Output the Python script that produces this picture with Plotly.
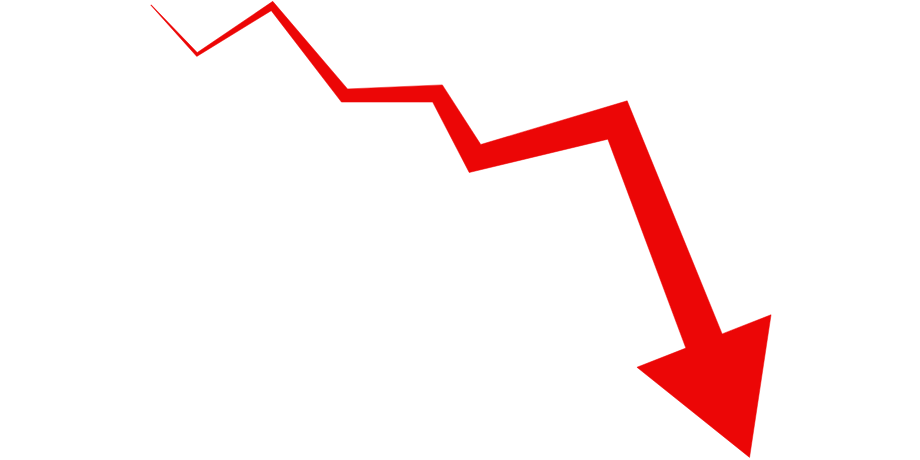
import numpy as np
import plotly.graph_objects as go

# centre line of the zigzag, in picture units (y grows downward)
path_x = [151, 197, 272, 344.5, 437.5, 475, 617.5, 704]
path_y = [5, 54.5, 6, 95.5, 93.5, 158.5, 120, 341]
# stroke thickness at each point of the path
path_w = [0.5, 3, 7, 13, 17, 24, 32, 39]
head_half = 72
head_len = 125
red = "#ec0606"


def outline(xs, ys, ws):
    p = np.column_stack([xs, ys]).astype(float)
    n = len(p)
    seg = np.diff(p, axis=0)
    seg /= np.linalg.norm(seg, axis=1)[:, None]
    nrm = np.column_stack([-seg[:, 1], seg[:, 0]])
    left, right = [], []
    for i in range(n):
        if i == 0:
            m, d = nrm[0], 1.0
        elif i == n - 1:
            m, d = nrm[-1], 1.0
        else:
            m = nrm[i - 1] + nrm[i]
            m /= np.linalg.norm(m)
            d = np.dot(m, nrm[i])
        off = m * (ws[i] / 2) / d
        left.append(p[i] + off)
        right.append(p[i] - off)
    # arrow head on the last segment
    base = p[-1]
    u = seg[-1]
    head = [base + nrm[-1] * head_half, base + u * head_len, base - nrm[-1] * head_half]
    pts = left + head + right[::-1] + [left[0]]
    pts = np.array(pts)
    return pts[:, 0], pts[:, 1]


ox, oy = outline(path_x, path_y, path_w)

fig = go.Figure(go.Scatter(
    x=ox, y=oy,
    mode="lines",
    fill="toself",
    fillcolor=red,
    line=dict(color=red, width=0.5),
    hoverinfo="skip",
))

fig.update_layout(
    width=920, height=460,
    margin=dict(t=0, r=0, b=0, l=0),
    paper_bgcolor="white",
    plot_bgcolor="white",
    showlegend=False,
    xaxis=dict(range=[0, 920], visible=False, fixedrange=True),
    yaxis=dict(range=[460, 0], visible=False, fixedrange=True),
)

# drop the page's default 8px body margin so the figure sits at the corner
fig.write_html(
    "out.html",
    config=dict(displayModeBar=False),
    post_script="document.body.style.margin='0';",
)
